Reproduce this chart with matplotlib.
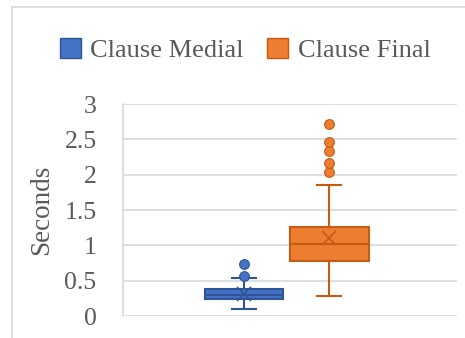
import matplotlib.pyplot as plt
from matplotlib.lines import Line2D
from matplotlib.patches import Patch

# Pause durations (seconds) by clause position
series = ["Clause Medial", "Clause Final"]
q1 = [0.236, 0.778]
medians = [0.30, 1.014]
q3 = [0.377, 1.263]
whisker_low = [0.103, 0.283]
whisker_high = [0.533, 1.853]
means = [0.31, 1.107]
outliers = [
    [0.57, 0.74],
    [2.037, 2.17, 2.334, 2.465, 2.725],
]

fill_colors = ["#4472C4", "#ED7D31"]
edge_colors = ["#2F5597", "#C55A11"]
positions = [0.362, 0.617]

plt.rcParams["font.family"] = ["Liberation Serif", "DejaVu Serif"]
text_color = "#595959"
grid_color = "#D9D9D9"

fig = plt.figure(figsize=(4.65, 3.38), dpi=100)
ax = fig.add_axes([0.2645, 0.065, 0.7185, 0.627])

for i in range(len(series)):
    stats = [{
        "q1": q1[i], "med": medians[i], "q3": q3[i],
        "whislo": whisker_low[i], "whishi": whisker_high[i],
        "mean": means[i], "fliers": outliers[i], "label": series[i],
    }]
    ax.bxp(
        stats, positions=[positions[i]], widths=0.236, patch_artist=True,
        showmeans=True, manage_ticks=False,
        boxprops=dict(facecolor=fill_colors[i], edgecolor=edge_colors[i], linewidth=1.5),
        medianprops=dict(color=edge_colors[i], linewidth=1.5),
        whiskerprops=dict(color=edge_colors[i], linewidth=1.5),
        capprops=dict(color=edge_colors[i], linewidth=1.5),
        capwidths=0.072,
        meanprops=dict(marker="x", markersize=10, markeredgecolor=edge_colors[i],
                       markeredgewidth=1.2),
        flierprops=dict(marker="o", markersize=7, markerfacecolor=fill_colors[i],
                        markeredgecolor=edge_colors[i], markeredgewidth=0.8),
        zorder=3,
    )

ax.set_xlim(0, 1)
ax.set_ylim(0, 3)
ax.set_yticks([0, 0.5, 1, 1.5, 2, 2.5, 3])
ax.set_yticklabels(["0", "0.5", "1", "1.5", "2", "2.5", "3"])
ax.set_xticks([])
ax.yaxis.grid(True, color=grid_color, linewidth=1.2)
ax.set_axisbelow(True)
ax.tick_params(axis="y", length=0, pad=19, labelsize=18.5, labelcolor=text_color)
for side in ["top", "right", "bottom"]:
    ax.spines[side].set_visible(False)
ax.spines["left"].set_color(grid_color)
ax.spines["left"].set_linewidth(1.2)
ax.set_ylabel("Seconds", fontsize=19.5, color=text_color)
ax.yaxis.set_label_coords(-0.205, 0.5)

handles = [Patch(facecolor=c, edgecolor=e, linewidth=1) for c, e in zip(fill_colors, edge_colors)]
fig.legend(handles, series, loc="center", bbox_to_anchor=(0.527, 0.852), ncol=2,
           frameon=False, fontsize=19, labelcolor=text_color, handlelength=0.8,
           handleheight=0.8, handletextpad=0.35, columnspacing=0.9)

# outer chart frame
fig.add_artist(Line2D([12 / 465, 12 / 465], [0, 1 - 7 / 338], color=grid_color, linewidth=1.2))
fig.add_artist(Line2D([12 / 465, 1], [1 - 7 / 338, 1 - 7 / 338], color=grid_color, linewidth=1.2))

fig.savefig("out.png", dpi=100)
